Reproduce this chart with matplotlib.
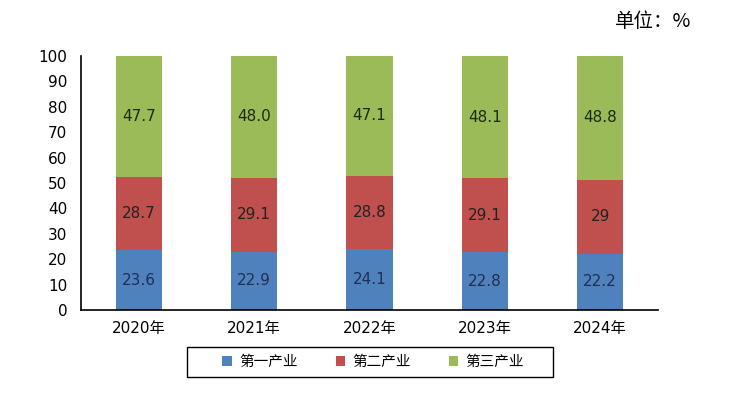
import matplotlib
matplotlib.use('Agg')
from matplotlib import pyplot as plt
from matplotlib.patches import Rectangle
import numpy as np

plt.rcParams['font.family'] = ['DejaVu Sans', 'Noto Sans CJK SC']

years = ['2020年', '2021年', '2022年', '2023年', '2024年']
primary = [23.6, 22.9, 24.1, 22.8, 22.2]
secondary = [28.7, 29.1, 28.8, 29.1, 29.0]
tertiary = [47.7, 48.0, 47.1, 48.1, 48.8]
primary_labels = ['23.6', '22.9', '24.1', '22.8', '22.2']
secondary_labels = ['28.7', '29.1', '28.8', '29.1', '29']
tertiary_labels = ['47.7', '48.0', '47.1', '48.1', '48.8']
series_names = ['第一产业', '第二产业', '第三产业']

colors = ['#4F81BD', '#C0504D', '#9BBB59']
text_colors = ['#1F2F55', '#222222', '#1E2A10']

fig = plt.figure(figsize=(7.51, 3.94), dpi=100)
ax = fig.add_axes([0.108, 0.213, 0.768, 0.645])

x = np.arange(len(years))
width = 0.4
bottom = np.zeros(len(years))
for vals, labels, c, tc, name in zip([primary, secondary, tertiary],
                                      [primary_labels, secondary_labels, tertiary_labels],
                                      colors, text_colors, series_names):
    vals = np.array(vals)
    ax.bar(x, vals, width, bottom=bottom, color=c, label=name)
    for xi, b, v, lab in zip(x, bottom, vals, labels):
        ax.text(xi, b + v / 2, lab, ha='center', va='center', fontsize=11, color=tc)
    bottom = bottom + vals

ax.set_xlim(-0.5, 4.5)
ax.set_ylim(0, 100)
ax.set_yticks(range(0, 101, 10))
ax.set_xticks(x)
ax.set_xticklabels(years, fontsize=11, family=['DejaVu Sans', 'Noto Sans CJK SC'])
ax.tick_params(axis='y', length=0, labelsize=11, pad=10)
ax.tick_params(axis='x', length=0, pad=8)
for s in ['top', 'right']:
    ax.spines[s].set_visible(False)
ax.spines['left'].set_linewidth(1.2)
ax.spines['bottom'].set_linewidth(1.2)

fig.text(0.92, 0.945, '单位：%', ha='right', va='center', fontsize=14,
         family=['Noto Sans CJK SC', 'DejaVu Sans'])

# legend without its own frame, box drawn separately (wider than tall padding)
leg = fig.legend(loc='center', bbox_to_anchor=(0.497, 0.081), ncol=3,
                 frameon=False, prop={'family': 'Noto Sans CJK SC', 'size': 10.5},
                 handlelength=0.65, handleheight=0.65, columnspacing=2.6,
                 handletextpad=0.5)
fig.patches.append(Rectangle((187 / 751, 1 - 377 / 394), 366 / 751, 30 / 394,
                             transform=fig.transFigure, fill=False,
                             edgecolor='black', linewidth=1.0))

fig.savefig('out.png', dpi=100)
